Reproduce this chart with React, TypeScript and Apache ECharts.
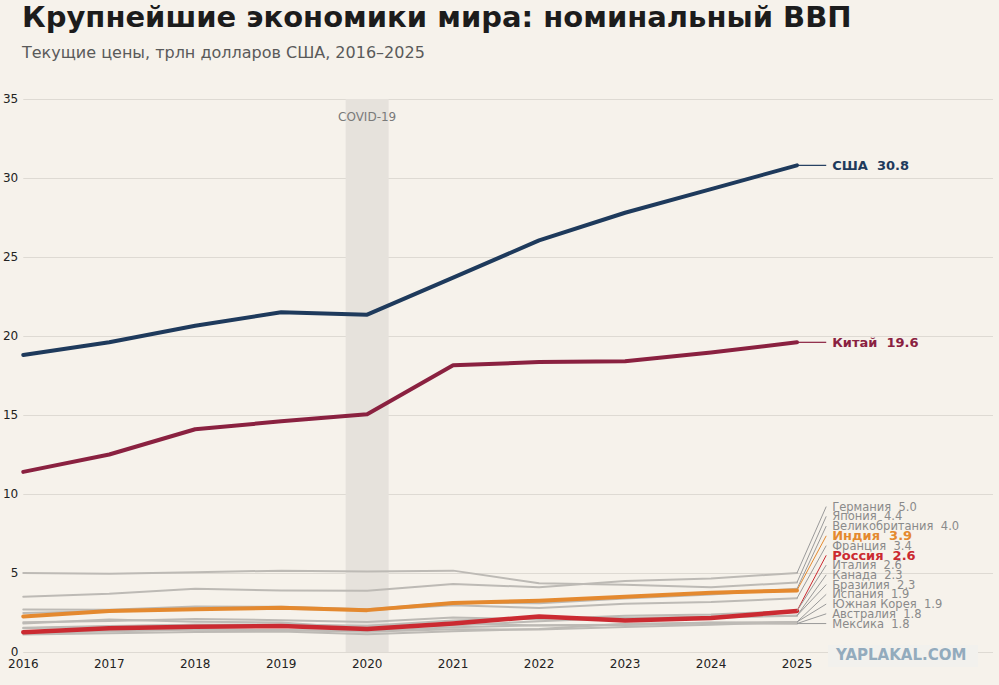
import React, { useEffect, useRef } from "react";
import * as echarts from "echarts";

const years = [2016, 2017, 2018, 2019, 2020, 2021, 2022, 2023, 2024, 2025];
const xTicks = years;
const yTicks = [0, 5, 10, 15, 20, 25, 30, 35];

const usa = [18.8, 19.6, 20.65, 21.5, 21.35, 23.7, 26.05, 27.8, 29.3, 30.8];
const china = [11.4, 12.5, 14.1, 14.6, 15.05, 18.15, 18.35, 18.4, 18.95, 19.6];
const germany = [3.5, 3.68, 4.0, 3.9, 3.88, 4.3, 4.1, 4.5, 4.65, 5.0];
const japan = [5.0, 4.95, 5.05, 5.15, 5.1, 5.15, 4.35, 4.25, 4.1, 4.4];
const uk = [2.69, 2.68, 2.88, 2.86, 2.7, 3.14, 3.09, 3.38, 3.64, 4.0];
const india = [2.25, 2.6, 2.7, 2.8, 2.65, 3.1, 3.25, 3.5, 3.75, 3.9];
const france = [2.47, 2.59, 2.79, 2.73, 2.65, 2.96, 2.78, 3.05, 3.16, 3.4];
const russia = [1.25, 1.5, 1.6, 1.65, 1.45, 1.8, 2.25, 2.0, 2.15, 2.6];
const italy = [1.88, 1.96, 2.09, 2.01, 1.9, 2.18, 2.07, 2.3, 2.38, 2.6];
const canada = [1.53, 1.65, 1.73, 1.74, 1.66, 2.0, 2.16, 2.14, 2.24, 2.3];
const brazil = [1.8, 2.06, 1.92, 1.87, 1.48, 1.67, 1.95, 2.17, 2.17, 2.3];
const spain = [1.23, 1.31, 1.42, 1.39, 1.28, 1.44, 1.42, 1.59, 1.73, 1.9];
const korea = [1.5, 1.62, 1.72, 1.65, 1.64, 1.82, 1.67, 1.71, 1.87, 1.9];
const australia = [1.21, 1.33, 1.42, 1.39, 1.33, 1.56, 1.69, 1.72, 1.8, 1.8];
const mexico = [1.11, 1.19, 1.26, 1.3, 1.12, 1.31, 1.46, 1.79, 1.85, 1.8];

const covidStart = 2019.75;
const covidEnd = 2020.25;

const NAVY = "#1e3a5c";
const WINE = "#8a2140";
const ORANGE = "#e4892f";
const RED = "#cb2a31";
const GRAY = "#bdbab5";
const LABEL_GRAY = "#8a8a8a";
const FONT = '"DejaVu Sans", sans-serif';

type Country = { name: string; values: number[]; kind: "big" | "hi" | "gray"; color: string; lineColor: string; width: number; z: number };

const countries: Country[] = [
  { name: "Германия", values: germany, kind: "gray", color: LABEL_GRAY, lineColor: GRAY, width: 2, z: 2 },
  { name: "Япония", values: japan, kind: "gray", color: LABEL_GRAY, lineColor: GRAY, width: 2, z: 2 },
  { name: "Великобритания", values: uk, kind: "gray", color: LABEL_GRAY, lineColor: GRAY, width: 2, z: 2 },
  { name: "Индия", values: india, kind: "hi", color: ORANGE, lineColor: ORANGE, width: 4, z: 4 },
  { name: "Франция", values: france, kind: "gray", color: LABEL_GRAY, lineColor: GRAY, width: 2, z: 2 },
  { name: "Россия", values: russia, kind: "hi", color: RED, lineColor: RED, width: 4.5, z: 5 },
  { name: "Италия", values: italy, kind: "gray", color: LABEL_GRAY, lineColor: GRAY, width: 2, z: 2 },
  { name: "Канада", values: canada, kind: "gray", color: LABEL_GRAY, lineColor: GRAY, width: 2, z: 2 },
  { name: "Бразилия", values: brazil, kind: "gray", color: LABEL_GRAY, lineColor: GRAY, width: 2, z: 2 },
  { name: "Испания", values: spain, kind: "gray", color: LABEL_GRAY, lineColor: GRAY, width: 2, z: 2 },
  { name: "Южная Корея", values: korea, kind: "gray", color: LABEL_GRAY, lineColor: GRAY, width: 2, z: 2 },
  { name: "Австралия", values: australia, kind: "gray", color: LABEL_GRAY, lineColor: GRAY, width: 2, z: 2 },
  { name: "Мексика", values: mexico, kind: "gray", color: LABEL_GRAY, lineColor: GRAY, width: 2, z: 2 },
];

const bigOnes: Country[] = [
  { name: "США", values: usa, kind: "big", color: NAVY, lineColor: NAVY, width: 4, z: 6 },
  { name: "Китай", values: china, kind: "big", color: WINE, lineColor: WINE, width: 4, z: 6 },
];

export default function App() {
  const ref = useRef<HTMLDivElement>(null);
  useEffect(() => {
    document.body.style.margin = "0";
    document.body.style.background = "#f6f2eb";
    const chart = echarts.init(ref.current!, null, { renderer: "svg" });

    // label layout: stack small-group labels upward from the lowest end value
    const gapUnits = 0.617;
    const n = countries.length;
    const labelPos: number[] = new Array(n);
    for (let i = n - 1; i >= 0; i--) {
      const v = countries[i].values[countries[i].values.length - 1];
      labelPos[i] = i === n - 1 ? v : Math.max(v, labelPos[i + 1] + gapUnits);
    }
    const labelItems = [
      ...bigOnes.map((c) => ({ c, end: c.values[c.values.length - 1], pos: c.values[c.values.length - 1] })),
      ...countries.map((c, i) => ({ c, end: c.values[c.values.length - 1], pos: labelPos[i] })),
    ];

    const lineSeries: any[] = [...countries, ...bigOnes].map((c) => ({
      type: "line",
      name: c.name,
      data: years.map((y, i) => [y, c.values[i]]),
      showSymbol: false,
      symbol: "none",
      z: c.z,
      lineStyle: { color: c.lineColor, width: c.width, cap: "round", join: "round" },
      emphasis: { disabled: true },
    }));

    lineSeries.push({
      type: "line",
      name: "covid",
      data: [],
      z: 1,
      markArea: {
        silent: true,
        itemStyle: { color: "#e6e2dc" },
        label: {
          show: true,
          position: "insideTop",
          distance: 12,
          formatter: "COVID-19",
          color: "#7a7a7a",
          fontSize: 12,
          fontFamily: FONT,
        },
        data: [[{ xAxis: covidStart }, { xAxis: covidEnd }]],
      },
    });

    lineSeries.push({
      type: "custom",
      coordinateSystem: "cartesian2d",
      z: 7,
      clip: false,
      silent: true,
      data: labelItems.map((it) => [2025, it.end, it.pos]),
      encode: { x: 0, y: 1 },
      renderItem: (params: any, api: any) => {
        const it = labelItems[params.dataIndex];
        const p0 = api.coord([2025, api.value(1)]);
        const p1 = api.coord([2025.34, api.value(2)]);
        const c = it.c;
        const big = c.kind === "big";
        const hi = c.kind === "hi";
        const font = big
          ? `bold 13px ${FONT}`
          : hi
          ? `bold 13px ${FONT}`
          : `11.5px ${FONT}`;
        const stroke = big ? c.color : hi ? c.color : "#9a9a9a";
        return {
          type: "group",
          children: [
            {
              type: "line",
              shape: { x1: p0[0], y1: p0[1], x2: p1[0], y2: p1[1] },
              style: { stroke, lineWidth: big ? 1.2 : 1 },
            },
            {
              type: "text",
              x: p1[0] + 6,
              y: p1[1],
              style: {
                text: `${c.name}  ${it.end.toFixed(1)}`,
                fill: c.color,
                font,
                verticalAlign: "middle",
                align: "left",
              },
            },
          ],
        };
      },
    });

    chart.setOption({
      animation: false,
      backgroundColor: "#f6f2eb",
      textStyle: { fontFamily: FONT },
      grid: { left: 22, right: 6, top: 99, bottom: 33, containLabel: false },
      xAxis: {
        type: "value",
        min: 2016,
        max: 2027.28,
        interval: 1,
        splitLine: { show: false },
        axisLine: { show: false },
        axisTick: { show: false },
        axisLabel: {
          color: "#222",
          fontSize: 12,
          margin: 6,
          fontFamily: FONT,
          formatter: (v: number) => (xTicks.includes(v) ? String(v) : ""),
        },
      },
      yAxis: {
        type: "value",
        min: yTicks[0],
        max: yTicks[yTicks.length - 1],
        interval: 5,
        axisLine: { show: false },
        axisTick: { show: false },
        splitLine: { lineStyle: { color: "#dedad3", width: 1 } },
        axisLabel: { color: "#222", fontSize: 12, margin: 5, fontFamily: FONT },
      },
      graphic: [
        {
          type: "text",
          left: 22,
          top: 2,
          style: {
            text: "Крупнейшие экономики мира: номинальный ВВП",
            fill: "#1c1c1c",
            font: `bold 29px ${FONT}`,
          },
        },
        {
          type: "text",
          left: 22,
          top: 44,
          style: {
            text: "Текущие цены, трлн долларов США, 2016–2025",
            fill: "#5a5a5a",
            font: `16px ${FONT}`,
          },
        },
        {
          type: "rect",
          left: 828,
          top: 645,
          shape: { width: 150, height: 22 },
          style: { fill: "#f2f1ed" },
          z: 10,
        },
        {
          type: "text",
          left: 836,
          top: 647,
          z: 11,
          style: {
            text: "YAPLAKAL.COM",
            fill: "#93abbd",
            font: `bold 15px ${FONT}`,
          },
        },
      ],
      series: lineSeries,
    });
    return () => chart.dispose();
  }, []);
  return <div ref={ref} style={{ width: 999, height: 685 }} />;
}
